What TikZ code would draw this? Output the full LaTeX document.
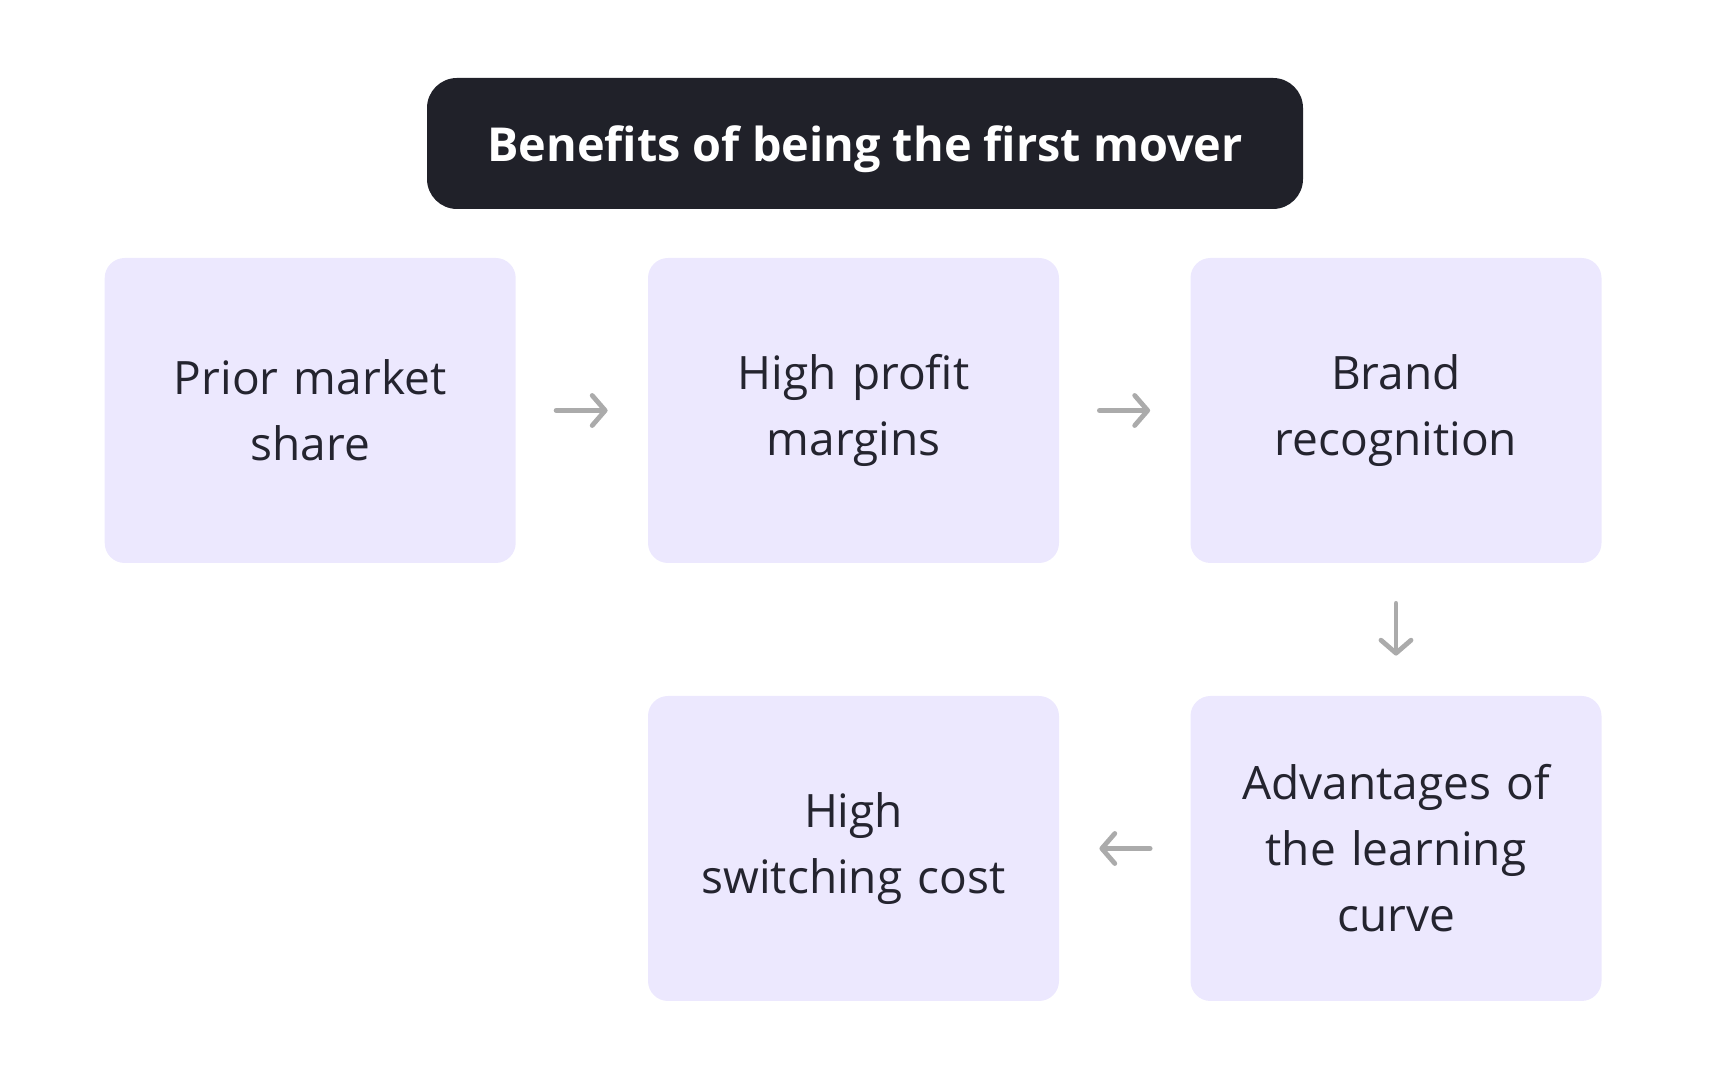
\documentclass[tikz,border=0pt]{standalone}
\usepackage{fontspec}
\setmainfont{Open Sans}
\usetikzlibrary{arrows.meta}
\definecolor{titlebg}{HTML}{202129}
\definecolor{boxbg}{HTML}{ECE8FE}
\definecolor{txt}{HTML}{24242F}
\definecolor{arr}{HTML}{ABABAB}
\tikzset{
  titlebox/.style={fill=titlebg, rounded corners=15pt, minimum width=438pt, minimum height=65.5pt, text=white, font=\fontsize{23.4}{28}\selectfont\bfseries, inner sep=0pt, text depth=0pt},
  stepbox/.style={fill=boxbg, rounded corners=10pt, minimum width=205.5pt, minimum height=152.5pt, text=txt, font=\fontsize{23}{33}\selectfont, align=center, inner sep=0pt, text width=190pt},
  flow/.style={draw=arr, line width=2.4pt, line cap=round, shorten <=20pt, shorten >=20pt, -{Straight Barb[length=6.5pt,width=15pt,line cap=round,line join=round]}}
}
\begin{document}
\begin{tikzpicture}[x=0.5pt,y=0.5pt]
\useasboundingbox (0,0) rectangle (1728,1080);
\node[titlebox] (title) at (865,936.5) {Benefits of being the first mover};
\node[stepbox] (a) at (310.2,669.5) {Prior market\\share};
\node[stepbox] (b) at (853.5,669.5) {High profit\\margins};
\node[stepbox] (c) at (1396,669.5) {Brand\\recognition};
\node[stepbox] (d) at (1396,231.5) {Advantages of\\the learning\\curve};
\node[stepbox] (e) at (853.5,231.5) {High\\switching cost};
\draw[flow] (a) -- (b);
\draw[flow] (b) -- (c);
\draw[flow] (c) -- (d);
\draw[flow] (d) -- (e);
\end{tikzpicture}
\end{document}
